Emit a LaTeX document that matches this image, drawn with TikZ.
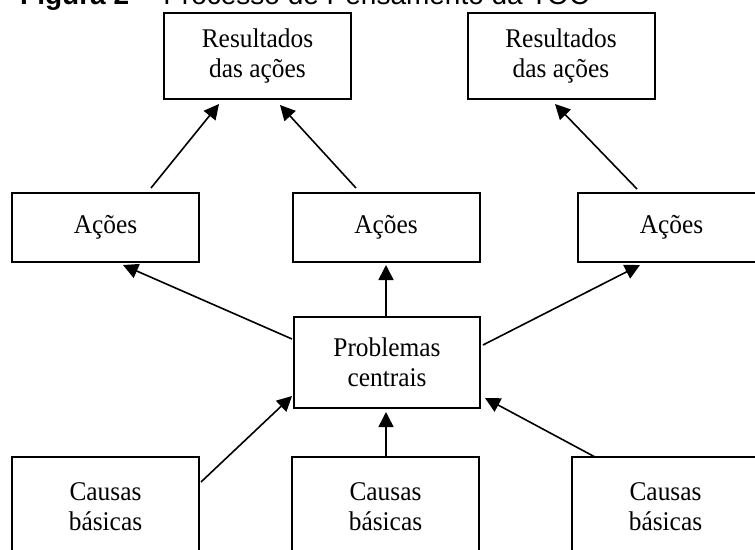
\documentclass[tikz,border=0pt]{standalone}
\usepackage{fontspec}
\setmainfont{Liberation Serif}[FakeStretch=0.94]
\newfontfamily\titlefont{Liberation Sans}
\usetikzlibrary{arrows.meta}
\begin{document}
\begin{tikzpicture}[x=1pt,y=-1pt,
  blk/.style={draw, line width=2pt, inner sep=0pt, align=center,
    minimum width=187pt, font=\fontsize{27}{30}\selectfont},
  conn/.style={line width=1.6pt, -{Triangle[length=15pt,width=15pt]}}]
\useasboundingbox (0,0) rectangle (755,549);
\clip (0,0) rectangle (755,549);
\fill[white] (0,0) rectangle (755,549);
\node[anchor=base west, inner sep=0pt, font=\titlefont\fontsize{28}{32}\selectfont] (title) at (20,4.5) {\textbf{Figura 2} -- Processo de Pensamento da TOC};
% top boxes
\node[blk, minimum height=86pt] (R1) at (257.5,56) {Resultados\\das ações};
\node[blk, minimum height=86pt] (R2) at (561,56) {Resultados\\das ações};
% actions
\node[blk, minimum height=69pt] (A1) at (105.5,227.5) {Ações};
\node[blk, minimum height=69pt] (A2) at (386,227.5) {Ações};
\node[blk, minimum height=69pt] (A3) at (671.5,227.5) {Ações};
% central problems
\node[blk, minimum height=91pt, minimum width=186pt] (P) at (387,362.5) {Problemas\\centrais};
% basic causes
\node[blk, minimum height=100pt] (C1) at (105.5,507) {Causas\\básicas};
\node[blk, minimum height=100pt] (C2) at (385.5,507) {Causas\\básicas};
\node[blk, minimum height=100pt] (C3) at (665.5,507) {Causas\\básicas};
% connectors
\draw[conn] ([xshift=45.5pt,yshift=4pt]A1.north) -- ([xshift=-38.5pt,yshift=-4pt]R1.south);
\draw[conn] ([xshift=-30pt,yshift=4pt]A2.north) -- ([xshift=22.5pt,yshift=-5pt]R1.south);
\draw[conn] ([xshift=-34.5pt,yshift=3pt]A3.north) -- ([xshift=-6pt,yshift=-4pt]R2.south);
\draw[conn] ([xshift=-1pt,yshift=23.5pt]P.west) -- ([xshift=17.5pt,yshift=-2pt]A1.south);
\draw[conn] ([xshift=-1pt]P.north) -- ([yshift=-2pt]A2.south);
\draw[conn] ([xshift=2pt,yshift=17.5pt]P.east) -- ([xshift=-31.5pt,yshift=-2pt]A3.south);
\draw[conn] ([xshift=95.5pt,yshift=-26pt]C1.north) -- ([xshift=-1pt,yshift=-33.5pt]P.west);
\draw[conn] ([xshift=0.5pt]C2.north) -- ([xshift=-1pt,yshift=-3pt]P.south);
\draw[conn] ([xshift=-70.5pt,yshift=-1pt]C3.north) -- ([xshift=4pt,yshift=-35.5pt]P.east);
\end{tikzpicture}
\end{document}
